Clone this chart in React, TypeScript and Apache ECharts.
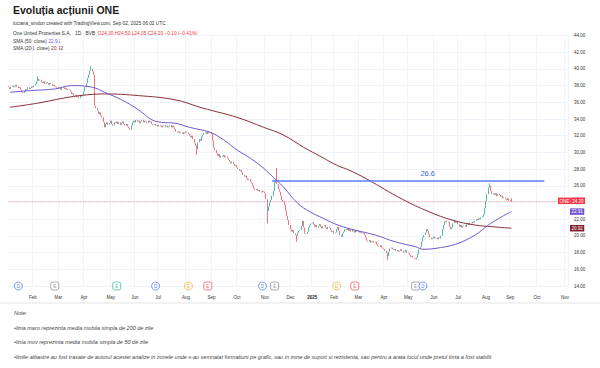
import React, { useEffect, useRef } from "react";
import * as echarts from "echarts";

// ---------- DATA ----------
const startDate = "2024-01-03";
const sessionCount = 461;
const holidays = [
  "2024-01-24", "2024-05-01", "2024-05-03", "2024-05-06", "2024-06-24", "2024-08-15",
  "2024-12-24", "2024-12-25", "2024-12-26", "2024-12-31", "2025-01-01", "2025-01-02",
  "2025-01-06", "2025-01-07", "2025-01-24", "2025-04-18", "2025-04-21", "2025-05-01",
  "2025-06-09", "2025-08-15",
];
const monthNames = ["Jan", "Feb", "Mar", "Apr", "May", "Jun", "Jul", "Aug", "Sep", "Oct", "Nov", "Dec"];

const firstOpen = 37.9;
const closes = [
  37.8, 37.6, 37.9, 38.0, 37.8, 37.9, 38.1, 37.9, 37.7, 37.8,
  37.5, 37.2, 37.1, 37.3, 37.6, 37.5, 37.8, 37.6, 37.7, 37.9,
  37.8, 38.0, 38.2, 38.5, 38.8, 38.6, 38.7, 38.4, 38.3, 38.5,
  38.2, 38.4, 38.3, 38.1, 38.3, 38.2, 38.0, 38.1, 37.9, 37.8,
  37.6, 37.8, 37.7, 37.5, 37.7, 37.8, 37.6, 37.7, 37.5, 37.6,
  37.5, 37.3, 37.0, 37.1, 36.8, 36.9, 36.6, 36.7, 36.5, 36.8,
  36.7, 36.9, 37.3, 37.8, 38.3, 38.9, 39.3, 39.8, 40.0, 39.7,
  39.3, 35.6, 35.3, 35.0, 34.6, 34.8, 34.4, 34.2, 33.6, 33.0,
  33.4, 33.6, 33.3, 33.5, 33.8, 33.4, 33.2, 33.6, 33.5, 33.7,
  33.4, 33.6, 33.3, 33.5, 33.7, 33.4, 33.2, 33.4, 33.1, 32.9,
  32.7, 33.2, 33.6, 33.8, 33.6, 33.9, 33.7, 33.8, 33.5, 33.7,
  33.9, 33.6, 33.8, 33.7, 33.5, 33.8, 33.6, 33.7, 33.4, 33.3,
  33.4, 33.2, 33.3, 33.1, 33.3, 33.2, 33.0, 33.2, 33.3, 33.1,
  33.2, 33.0, 33.1, 33.3, 33.0, 33.2, 33.0, 32.8, 32.5, 32.4,
  32.5, 32.3, 32.4, 32.2, 32.4, 32.3, 32.5, 32.4, 32.2, 32.0,
  31.8, 32.0, 31.6, 31.1, 30.8, 30.4, 31.2, 31.6, 31.4, 31.9,
  32.1, 32.3, 32.4, 32.2, 32.5, 32.3, 32.4, 32.2, 31.4, 30.6,
  30.3, 29.9, 29.6, 29.8, 29.4, 29.6, 29.5, 29.7, 29.4, 29.5,
  29.3, 29.1, 28.9, 28.7, 28.9, 28.6, 28.4, 28.5, 28.2, 28.0,
  27.8, 27.9, 27.6, 27.3, 27.1, 27.2, 26.9, 26.7, 26.8, 26.5,
  26.3, 26.0, 25.7, 25.5, 25.6, 25.4, 25.5, 25.3, 25.2, 25.4,
  25.3, 25.1, 24.4, 23.0, 23.5, 24.0, 24.3, 24.8, 25.4, 26.4,
  26.7, 26.2, 25.6, 25.3, 24.8, 24.3, 24.1, 23.7, 23.0, 22.4,
  21.9, 21.3, 20.8, 20.5, 20.7, 20.3, 20.1, 20.0, 20.4, 20.6,
  20.7, 21.2, 21.8, 21.0, 20.3, 20.2, 20.5, 21.0, 21.3, 21.5,
  21.6, 21.4, 21.1, 21.3, 21.0, 21.2, 21.4, 21.1, 20.9, 21.2,
  21.3, 21.0, 20.8, 21.1, 21.0, 20.7, 20.5, 20.6, 20.3, 20.4,
  20.8, 21.1, 20.6, 20.1, 19.9, 20.3, 20.5, 20.8, 20.7, 20.9,
  20.6, 20.8, 20.5, 20.7, 20.6, 20.4, 20.7, 20.5, 20.6, 20.4,
  20.5, 20.3, 20.4, 20.1, 19.8, 19.4, 19.3, 19.5, 19.2, 19.3,
  19.4, 19.2, 19.3, 19.0, 18.8, 18.7, 18.9, 18.6, 18.5, 18.4,
  18.2, 17.9, 17.6, 18.1, 18.5, 18.6, 18.4, 18.3, 18.4, 18.2,
  18.3, 18.1, 18.2, 18.4, 18.2, 18.0, 18.1, 18.3, 18.0, 17.9,
  17.7, 17.5, 17.6, 17.4, 17.3, 17.2, 17.4, 17.8, 18.4, 18.7,
  19.3, 19.8, 20.1, 20.4, 20.8, 20.6, 20.2, 19.8, 19.6, 19.7,
  19.9, 19.7, 19.8, 19.6, 19.8, 19.7, 20.0, 20.8, 21.3, 21.7,
  21.8, 21.6, 21.7, 21.1, 20.8, 21.0, 21.5, 21.8, 21.6, 21.7,
  21.4, 21.1, 21.3, 21.0, 21.2, 21.3, 21.1, 21.4, 21.5, 21.3,
  21.6, 21.5, 21.7, 21.6, 21.8, 22.0, 21.9, 22.1, 22.0, 22.2,
  22.3, 22.6, 23.3, 24.2, 25.0, 25.8, 26.0, 25.4, 25.0, 25.1,
  24.9, 25.1, 24.8, 25.0, 24.9, 24.7, 24.8, 24.5, 24.6, 24.4,
  24.3, 24.5, 24.2, 24.3, 24.2,
];
const wickHighs: [number, number][] = [[24, 39.1], [68, 40.3], [221, 28.1], [396, 26.3]];
const wickLows: [number, number][] = [[155, 29.7], [213, 21.5], [237, 19.3], [312, 17.1]];
const lastCandle = { open: 24.3, high: 24.5, low: 24.05, close: 24.2, change: -0.1, changePct: -0.41 };

const sma50Points: [number, number][] = [
  [1, 37.2], [18, 37.4], [38, 37.6], [52, 38.0], [69, 37.8], [79, 37.2], [93, 36.3], [107, 35.1],
  [118, 33.9], [126, 33.6], [137, 33.5], [149, 33.0], [166, 32.4], [177, 31.5], [188, 30.3],
  [199, 29.3], [210, 28.1], [218, 27.0], [226, 25.9], [238, 23.9], [248, 22.9], [259, 22.1],
  [271, 21.3], [285, 20.7], [302, 20.1], [318, 19.3], [335, 18.7], [341, 18.4], [351, 18.5],
  [368, 19.0], [384, 20.1], [395, 21.3], [406, 22.3], [414, 22.91],
];
const sma200Points: [number, number][] = [
  [1, 35.4], [24, 35.9], [49, 36.6], [65, 36.9], [79, 37.0], [107, 36.8], [137, 36.3], [160, 35.3],
  [188, 34.2], [210, 33.0], [226, 32.1], [243, 30.6], [257, 29.5], [271, 28.4], [280, 27.9],
  [295, 26.8], [324, 24.4], [346, 22.9], [365, 21.9], [384, 21.3], [398, 21.1], [414, 20.92],
];
const sma50Last = 22.91;
const sma200Last = 20.92;

const resistanceLevel = 26.6;
const resistanceStart = "2024-11-11";
const resistanceEnd = "2025-10-09";
const resistanceLabelDate = "2025-05-26";

const yMin = 14;
const yMax = 44;
const yStep = 2;

const eventDates = ["2024-01-15", "2024-02-27", "2024-05-13", "2024-06-27", "2024-08-05", "2024-08-28",
  "2024-10-30", "2024-11-13", "2025-02-05", "2025-02-26", "2025-05-12", "2025-05-20"];
const eventLetters = ["D", "E", "E", "D", "E", "E", "D", "E", "E", "E", "E", "D"];
const eventKinds = ["div", "neutral", "beat", "div", "info", "miss", "div", "neutral", "info", "miss", "neutral", "div"];

const titleText = "Evoluția acțiunii ONE";
const subtitleText = "luciana_sindon created with TradingView.com, Sep 02, 2025 06:02 UTC";
const symbolText = "One United Properties S.A. · 1D · BVB";
const noteLines = [
  "Note:",
  "•linia maro reprezinta media mobila simpla de 200 de zile",
  "•linia mov reprezinta media mobila simpla de 50 de zile",
  "•liniile albastre au fost trasate de autorul acestei analize in zonele unde s-au semnalat formatiuni pe grafic, sau in zone de suport si rezistenta, sau pentru a arata locul unde pretul tinta a fost stabilit",
];

// ---------- STYLE ----------
const UP = "#089981";
const DOWN = "#F23645";
const PURPLE = "#7556D0";
const MAROON = "#8A2E36";
const BLUE = "#5C7CFA";
const GRID = "#F0F3FA";
const FONT = '"Liberation Sans", Arial, sans-serif';
const kindColor: Record<string, string> = {
  div: "#2962FF", neutral: "#787B86", beat: "#22AB94", info: "#FF9800", miss: "#F23645",
};

function buildSessions(): string[] {
  const hol = new Set(holidays);
  const out: string[] = [];
  const [y, m, d] = startDate.split("-").map(Number);
  let t = Date.UTC(y, m - 1, d);
  while (out.length < sessionCount) {
    const dt = new Date(t);
    const wd = dt.getUTCDay();
    const s = dt.toISOString().slice(0, 10);
    if (wd !== 0 && wd !== 6 && !hol.has(s)) out.push(s);
    t += 86400000;
  }
  return out;
}

export default function App() {
  const ref = useRef<HTMLDivElement>(null);
  useEffect(() => {
    if (!ref.current) return;
    const chart = echarts.init(ref.current, undefined, { renderer: "svg" });
    const sessions = buildSessions();
    const firstOfMonth = sessions.map((s, i) => i > 0 && s.slice(0, 7) !== sessions[i - 1].slice(0, 7));
    const monthInterval = (i: number) => firstOfMonth[i];

    const hiMap = new Map(wickHighs);
    const loMap = new Map(wickLows);
    const last = closes.length - 1;
    const candles = closes.map((c, i) => {
      const o = i === 0 ? firstOpen : closes[i - 1];
      let hi = Math.max(o, c);
      let lo = Math.min(o, c);
      if (hiMap.has(i)) hi = hiMap.get(i)!;
      if (loMap.has(i)) lo = loMap.get(i)!;
      if (i === last) return [lastCandle.open, lastCandle.close, lastCandle.low, lastCandle.high];
      return [o, c, lo, hi];
    });

    const sma50 = sma50Points.map(([i, v]) => [sessions[i], v]);
    const sma200 = sma200Points.map(([i, v]) => [sessions[i], v]);

    const badge = (bg: string) => ({
      backgroundColor: bg, color: "#fff", fontSize: 4.5, fontFamily: FONT, padding: [1, 1.5, 0.5, 1.5],
    });
    // price-scale labels hidden behind the price badge (as on the reference)
    const badgeValues = [lastCandle.close];

    const events = eventDates.map((d, k) => {
      const col = kindColor[eventKinds[k]];
      return {
        value: [d, yMin],
        symbol: eventLetters[k] === "D" || eventKinds[k] === "info" ? "circle" : "roundRect",
        itemStyle: { color: "#fff", borderColor: col, borderWidth: 0.8 },
        label: { show: true, formatter: eventLetters[k], color: col, fontSize: 4.5, fontFamily: FONT, position: "inside" },
      };
    });

    const fmt = (v: number) => v.toFixed(2);
    const sign = (v: number) => (v < 0 ? "−" + Math.abs(v).toFixed(2) : "+" + v.toFixed(2));

    chart.setOption({
      animation: false,
      backgroundColor: "#fff",
      grid: { left: 8, right: 32, top: 35.5, bottom: 82, outerBoundsMode: "none" },
      xAxis: {
        type: "category",
        data: sessions,
        boundaryGap: true,
        axisLine: { show: false },
        axisTick: { show: false },
        axisLabel: {
          interval: monthInterval,
          margin: 9,
          fontSize: 4.5,
          color: "#333",
          fontFamily: FONT,
          formatter: (v: string) => {
            const m = Number(v.slice(5, 7));
            return m === 1 ? `{y|${v.slice(0, 4)}}` : monthNames[m - 1];
          },
          rich: { y: { fontWeight: "bold", fontSize: 4.5, color: "#222", fontFamily: FONT } },
        },
        splitLine: { show: true, interval: monthInterval, lineStyle: { color: GRID, width: 1 } },
      },
      yAxis: {
        type: "value",
        position: "right",
        min: yMin,
        max: yMax,
        interval: yStep,
        axisLine: { show: false },
        axisTick: { show: false },
        axisLabel: {
          fontSize: 4.5, color: "#333", margin: 6, fontFamily: FONT,
          formatter: (v: number) => (badgeValues.some((b) => Math.abs(b - v) < 0.5) ? "" : v.toFixed(2)),
        },
        splitLine: { lineStyle: { color: GRID, width: 1 } },
      },
      series: [
        {
          type: "candlestick",
          data: candles,
          barWidth: 1.1,
          itemStyle: { color: UP, color0: DOWN, borderColor: UP, borderColor0: DOWN, borderWidth: 0.7 },
          markLine: {
            silent: true,
            symbol: "none",
            animation: false,
            data: [
              [
                { coord: [resistanceStart, resistanceLevel], lineStyle: { color: BLUE, width: 1.5, type: "solid" }, label: { show: false } },
                { coord: [resistanceEnd, resistanceLevel] },
              ],
              {
                yAxis: closes[last],
                lineStyle: { color: "rgba(242,54,69,0.55)", width: 0.8, type: "dotted" },
                label: {
                  show: true,
                  position: "end",
                  distance: -10,
                  formatter: `{n|ONE}{p|${fmt(lastCandle.close)}}`,
                  rich: { n: badge(DOWN), p: badge(DOWN) },
                },
              },
            ],
          },
          markPoint: {
            silent: true,
            animation: false,
            data: [
              {
                coord: [resistanceLabelDate, resistanceLevel],
                symbol: "circle",
                symbolSize: 0,
                itemStyle: { color: "transparent" },
                label: { show: true, position: "top", distance: 3, formatter: String(resistanceLevel), color: "#3D63F2", fontSize: 7.5, fontFamily: FONT },
              },
            ],
          },
        },
        {
          type: "line",
          name: "SMA200",
          data: sma200,
          smooth: 0.4,
          showSymbol: false,
          lineStyle: { color: MAROON, width: 1 },
          itemStyle: { color: MAROON },
          markLine: {
            silent: true, symbol: "none", animation: false,
            lineStyle: { width: 0, color: "transparent" },
            label: { show: true, position: "end", distance: 2, formatter: fmt(sma200Last), ...badge("#7E1F2B") },
            data: [{ yAxis: sma200Last }],
          },
        },
        {
          type: "line",
          name: "SMA50",
          data: sma50,
          smooth: 0.4,
          showSymbol: false,
          lineStyle: { color: PURPLE, width: 1 },
          itemStyle: { color: PURPLE },
          markLine: {
            silent: true, symbol: "none", animation: false,
            lineStyle: { width: 0, color: "transparent" },
            label: { show: true, position: "end", distance: 2, formatter: fmt(sma50Last), ...badge(PURPLE) },
            data: [{ yAxis: sma50Last }],
          },
        },
        {
          type: "scatter",
          data: events,
          symbolSize: 8,
          clip: false,
          silent: true,
          z: 5,
        },
      ],
      graphic: [
        { type: "text", left: 13, top: 4, style: { text: titleText, font: `bold 10.5px ${FONT}`, fill: "#1c1c1c" } },
        { type: "text", left: 13, top: 20.5, style: { text: subtitleText, font: `4.8px ${FONT}`, fill: "#333" } },
        {
          type: "text", left: 13, top: 31,
          style: {
            text: `{a|${symbolText}}  {r|O${fmt(lastCandle.open)} H${fmt(lastCandle.high)} L${fmt(lastCandle.low)} C${fmt(lastCandle.close)} ${sign(lastCandle.change)} (${sign(lastCandle.changePct)}%)}`,
            font: `4.8px ${FONT}`,
            rich: { a: { fill: "#333", fontSize: 4.8, fontFamily: FONT }, r: { fill: DOWN, fontSize: 4.8, fontFamily: FONT } },
          },
        },
        {
          type: "text", left: 13, top: 38.5,
          style: {
            text: `{a|SMA (50, close)} {p|${fmt(sma50Last)}}`,
            font: `4.8px ${FONT}`,
            rich: { a: { fill: "#333", fontSize: 4.8, fontFamily: FONT }, p: { fill: PURPLE, fontSize: 4.8, fontFamily: FONT } },
          },
        },
        {
          type: "text", left: 13, top: 46,
          style: {
            text: `{a|SMA (200, close)} {m|${fmt(sma200Last)}}`,
            font: `4.8px ${FONT}`,
            rich: { a: { fill: "#333", fontSize: 4.8, fontFamily: FONT }, m: { fill: MAROON, fontSize: 4.8, fontFamily: FONT } },
          },
        },
        { type: "line", shape: { x1: 0, y1: 303, x2: 600, y2: 303 }, style: { stroke: "#E3E3E3", lineWidth: 1 } },
        ...noteLines.map((t, k) => ({
          type: "text",
          left: 14,
          top: 310 + k * 14.7,
          style: { text: t, font: `italic 5.5px ${FONT}`, fill: "#444" },
        })),
      ],
    });
    return () => chart.dispose();
  }, []);

  return (
    <div
      ref={ref}
      style={{ position: "absolute", left: 0, top: 0, width: 600, height: 368, background: "#fff" }}
    />
  );
}
